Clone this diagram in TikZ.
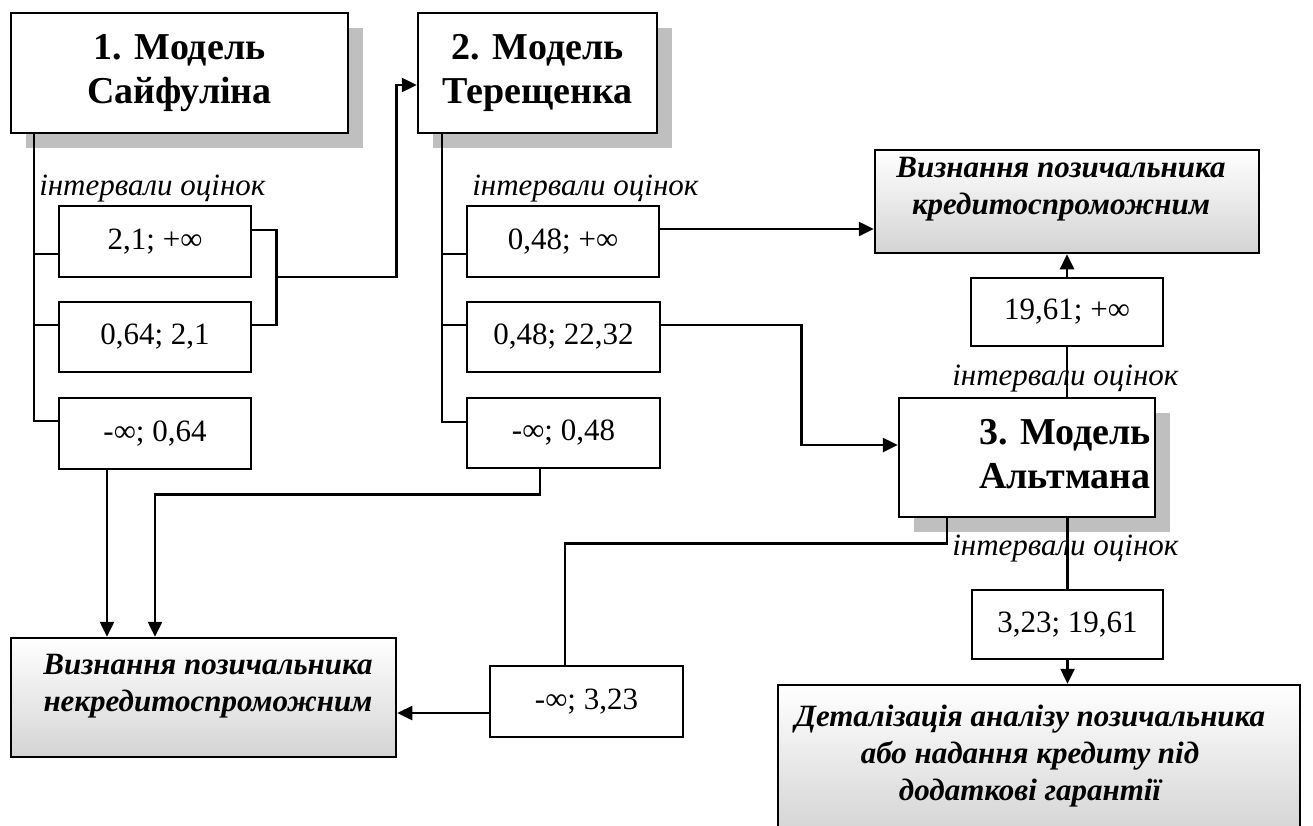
\documentclass[tikz,border=0pt]{standalone}
\usepackage{fontspec}
\setmainfont{Liberation Serif}
\usetikzlibrary{arrows.meta,shadows,calc}

\begin{document}
\begin{tikzpicture}[x=1pt,y=-1pt,
  line width=2.5pt,
  arr/.style={-{Triangle[length=15pt,width=14pt]}},
  model/.style={draw, fill=white, inner sep=0pt, align=center,
    font=\fontsize{38}{44}\selectfont\bfseries,
    drop shadow={shadow xshift=15pt, shadow yshift=-15pt, fill=black!25, opacity=1}},
  ival/.style={draw, fill=white, inner sep=0pt, font=\fontsize{31}{37}\selectfont},
  resbox/.style={draw, inner sep=0pt, top color=white, bottom color=black!17},
  restext/.style={inner sep=0pt, align=center, font=\fontsize{31}{37}\selectfont\bfseries\itshape},
  note/.style={inner sep=0pt, anchor=base west, font=\fontsize{31}{37}\selectfont\itshape}
]
\useasboundingbox (0,0) rectangle (1313,825);

% model boxes
\node[model, minimum width=337pt, minimum height=120pt] (m1) at (179.5,73) {1. Модель\\Сайфуліна};
\node[model, minimum width=239pt, minimum height=120pt] (m2) at (537.5,73) {2. Модель\\Терещенка};
\node[model, minimum width=256pt, minimum height=119pt] (m3) at (1027,457.5) {};
\node[inner sep=0pt, align=center, font=\fontsize{38}{44}\selectfont\bfseries] (m3t) at (1065,454) {3. Модель\\Альтмана};

% score intervals
\node[ival, minimum width=192pt, minimum height=71pt] (a1) at (155,241.5) {2,1; +∞};
\node[ival, minimum width=192pt, minimum height=70pt] (a2) at (155,337) {0,64; 2,1};
\node[ival, minimum width=192pt, minimum height=71pt] (a3) at (155,433.5) {-∞; 0,64};
\node[ival, minimum width=192pt, minimum height=71pt] (p1) at (563,241.5) {0,48; +∞};
\node[ival, minimum width=193pt, minimum height=70pt] (p2) at (563.5,337) {0,48; 22,32};
\node[ival, minimum width=193pt, minimum height=70pt] (p3) at (563.5,433) {-∞; 0,48};
\node[ival, minimum width=192pt, minimum height=68pt] (c1) at (1067,312) {19,61; +∞};
\node[ival, minimum width=191pt, minimum height=69pt] (c2) at (1067.5,624.5) {3,23; 19,61};
\node[ival, minimum width=193pt, minimum height=71pt] (d1) at (586.5,701.5) {-∞; 3,23};

% decisions
\node[resbox, minimum width=384pt, minimum height=103pt] (r1) at (1067,201.5) {};
\node[restext] (r1t) at (1061,189) {Визнання позичальника\\кредитоспроможним};
\node[resbox, minimum width=385pt, minimum height=119pt] (lres) at (203.5,697.5) {};
\node[restext] (lrest) at (208,686) {Визнання позичальника\\некредитоспроможним};
\node[resbox, minimum width=522pt, minimum height=150pt] (r2) at (1039,760) {};
\node[restext] (r2t) at (1030,756)
  {Деталізація аналізу позичальника\\або надання кредиту під\\додаткові гарантії};

% captions
\node[note] (n1) at (38,195) {інтервали оцінок};
\node[note] (n2) at (471,195) {інтервали оцінок};
\node[note] (n3) at (951,385) {інтервали оцінок};
\node[note] (n4) at (951,555) {інтервали оцінок};

% model 1 branches
\coordinate (t1) at ([xshift=24pt]m1.south west);
\coordinate (j1) at ([yshift=-12.5pt]a1.west);
\coordinate (j2) at ([yshift=12pt]a2.west);
\coordinate (j3) at ([yshift=12.5pt]a3.west);
\draw (t1) |- (j3);
\draw (j1 -| t1) -- (j1);
\draw (j2 -| t1) -- (j2);

% upper two intervals lead to model 2
\coordinate (k1) at ([yshift=11.5pt]a1.east);
\coordinate (k2) at ([yshift=12pt]a2.east);
\coordinate (k3) at ([xshift=24pt,yshift=-47pt]k1);
\coordinate (k4) at ([yshift=-12pt]m2.west);
\draw (k1) -- ++(24,0) |- (k2);
\draw[arr] (k3) -- ++(120,0) |- (k4);

% model 2 branches
\coordinate (t2) at ([xshift=25pt]m2.south west);
\coordinate (g1) at ([yshift=-12.5pt]p1.west);
\coordinate (g2) at ([yshift=12pt]p2.west);
\coordinate (g3) at ([yshift=11pt]p3.west);
\draw (t2) |- (g3);
\draw (g1 -| t2) -- (g1);
\draw (g2 -| t2) -- (g2);

\coordinate (h1) at ([yshift=12.5pt]p1.east);
\draw[arr] (h1) -- (h1 -| r1.west);
\coordinate (h2) at ([yshift=12pt]p2.east);
\coordinate (h3) at ([yshift=12.5pt]m3.west);
\draw[arr] (h2) -- ++(140,0) |- (h3);

% towards the negative decision
\coordinate (s1) at ([xshift=-48pt]a3.south);
\draw[arr] (s1) -- (s1 |- lres.north);
\coordinate (s2) at ([xshift=-23.5pt]p3.south);
\coordinate (s3) at ([xshift=-48.5pt]lres.north);
\draw[arr] (s2) -- ++(0,25) -| (s3);

% model 3 branches
\draw[arr] (c1.north) -- (c1.north |- r1.south);
\draw (c1.south) -- (c1.south |- m3.north);
\draw (c2.north |- m3.south) -- (c2.north);
\draw[arr] (c2.south) -- (c2.south |- r2.north);
\coordinate (u1) at ([xshift=-80pt]m3.south);
\coordinate (u2) at ([xshift=-21.5pt]d1.north);
\draw (u1) -- ++(0,25) -| (u2);
\coordinate (v1) at ([yshift=-11.5pt]d1.west);
\draw[arr] (v1) -- (v1 -| lres.east);
\end{tikzpicture}
\end{document}
